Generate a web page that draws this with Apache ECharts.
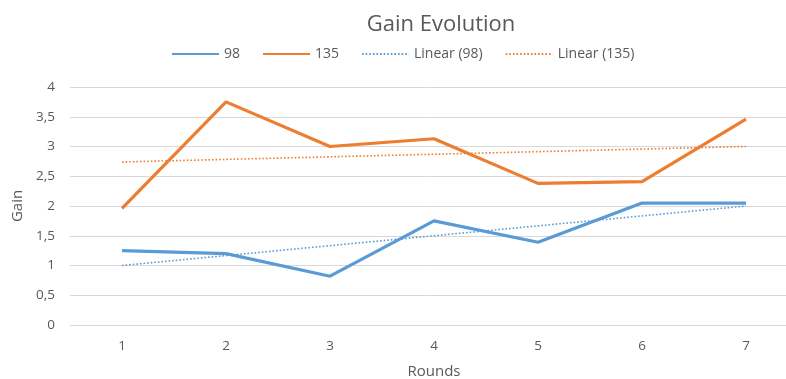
<!DOCTYPE html>
<html>
<head>
<meta charset="utf-8">
<style>
  html, body { margin: 0; padding: 0; background: #fff; }
  #chart { width: 786px; height: 379px; }
</style>
<script src="https://cdn.jsdelivr.net/npm/echarts@6/dist/echarts.min.js"></script>
</head>
<body>
<div id="chart"></div>
<script>
// Rounds on the x axis
const rounds = ['1', '2', '3', '4', '5', '6', '7'];
// Gain per round for each group
const gain98 = [1.25, 1.2, 0.82, 1.75, 1.39, 2.05, 2.05];
const gain135 = [1.96, 3.75, 3.0, 3.13, 2.38, 2.41, 3.46];
// Linear trend lines: value at the first and last round
const trend98 = [1.0, 2.0];
const trend135 = [2.74, 3.0];
// Y axis ticks
const gainTicks = [0, 0.5, 1, 1.5, 2, 2.5, 3, 3.5, 4];

const BLUE = '#5B9BD5';
const ORANGE = '#ED7D31';
const TEXT = '#595959';
const FONT = '"Open Sans", "Liberation Sans", sans-serif';

const lastIdx = rounds.length - 1;
const trendPoints = t => [[0, t[0]], [lastIdx, t[1]]];

const chart = echarts.init(document.getElementById('chart'));
chart.setOption({
  animation: false,
  backgroundColor: '#fff',
  textStyle: { fontFamily: FONT, color: TEXT },
  title: {
    text: 'Gain Evolution',
    left: 436,
    top: 9,
    textAlign: 'center',
    textStyle: { fontFamily: FONT, fontSize: 22, fontWeight: 'normal', color: TEXT }
  },
  legend: {
    top: 42,
    left: 166,
    itemWidth: 47,
    itemHeight: 14,
    itemGap: 22,
    itemStyle: { color: 'transparent', borderColor: 'transparent', borderWidth: 0 },
    textStyle: { fontFamily: FONT, fontSize: 14, color: TEXT },
    data: ['98', '135', 'Linear (98)', 'Linear (135)']
  },
  grid: { left: 70, right: -12, top: 87, bottom: 54, containLabel: false, outerBoundsMode: 'none' },
  xAxis: {
    type: 'category',
    data: rounds,
    boundaryGap: true,
    name: 'Rounds',
    nameLocation: 'middle',
    nameGap: 39,
    nameTextStyle: { fontFamily: FONT, fontSize: 15, color: TEXT },
    axisLine: { show: true, lineStyle: { color: '#D9D9D9', width: 1 } },
    axisTick: { show: false },
    axisLabel: { color: TEXT, fontSize: 13.5, margin: 14 }
  },
  yAxis: {
    type: 'value',
    min: gainTicks[0],
    max: gainTicks[gainTicks.length - 1],
    interval: gainTicks[1] - gainTicks[0],
    name: 'Gain',
    nameLocation: 'middle',
    nameGap: 43,
    nameTextStyle: { fontFamily: FONT, fontSize: 15, color: TEXT },
    axisLine: { show: false },
    axisTick: { show: false },
    axisLabel: {
      color: TEXT, fontSize: 13.5, margin: 15,
      formatter: v => String(v).replace('.', ',')
    },
    splitLine: { lineStyle: { color: '#D9D9D9', width: 1 } }
  },
  series: [
    {
      name: '98', type: 'line', data: gain98, symbol: 'none',
      lineStyle: { color: BLUE, width: 3.2 }, itemStyle: { color: BLUE }, z: 3
    },
    {
      name: '135', type: 'line', data: gain135, symbol: 'none',
      lineStyle: { color: ORANGE, width: 3.2 }, itemStyle: { color: ORANGE }, z: 3
    },
    {
      name: 'Linear (98)', type: 'line', data: trendPoints(trend98), symbol: 'none',
      lineStyle: { color: BLUE, width: 1.6, type: [1.6, 2] }, itemStyle: { color: BLUE }, z: 2
    },
    {
      name: 'Linear (135)', type: 'line', data: trendPoints(trend135), symbol: 'none',
      lineStyle: { color: ORANGE, width: 1.6, type: [1.6, 2] }, itemStyle: { color: ORANGE }, z: 2
    }
  ]
});
</script>
</body>
</html>
